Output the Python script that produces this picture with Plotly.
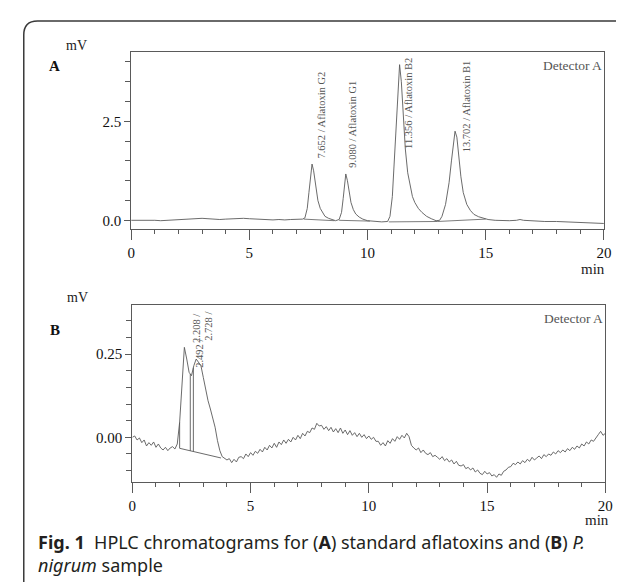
import plotly.graph_objects as go
import numpy as np

# ---------------- Data ----------------
# Panel A: standard aflatoxins chromatogram
time_a = [0.0, 0.25, 0.5, 0.75, 1.0, 1.25, 1.5, 1.75, 2.0, 2.25, 2.5, 2.75, 3.0, 3.25, 3.5,
          3.75, 4.0, 4.25, 4.5, 4.75, 5.0, 5.25, 5.5, 5.75, 6.0, 6.25, 6.5, 6.75, 7.0, 7.25,
          7.35, 7.45, 7.52, 7.58, 7.652, 7.72, 7.8, 7.9, 8.0, 8.1, 8.2, 8.35, 8.5, 8.65, 8.8,
          8.9, 8.97, 9.03, 9.08, 9.15, 9.22, 9.3, 9.4, 9.5, 9.65, 9.8, 10.0, 10.3, 10.6, 10.85,
          10.95, 11.05, 11.15, 11.25, 11.356, 11.43, 11.5, 11.6, 11.7, 11.8, 11.9, 12.0, 12.15,
          12.3, 12.5, 12.7, 12.9, 13.05,
          13.15, 13.3, 13.45, 13.55, 13.65, 13.702, 13.78, 13.86, 13.95, 14.05, 14.2, 14.35,
          14.5, 14.7, 14.9, 15.1,
          15.4, 15.7, 16.0, 16.3, 16.45, 16.6, 17.0, 17.5, 18.0, 18.5, 19.0, 19.5, 20.0]
signal_a = [0.00, 0.00, 0.01, 0.00, 0.00, -0.01, 0.00, 0.00, 0.01, 0.02, 0.03, 0.04, 0.05, 0.04, 0.03,
            0.02, 0.03, 0.04, 0.05, 0.05, 0.04, 0.03, 0.02, 0.02, 0.01, 0.02, 0.01, 0.02, 0.02, 0.03,
            0.06, 0.30, 0.70, 1.10, 1.42, 1.25, 0.85, 0.50, 0.30, 0.18, 0.10, 0.05, 0.01, -0.01, 0.02,
            0.20, 0.55, 0.95, 1.17, 1.00, 0.70, 0.45, 0.27, 0.16, 0.08, 0.03, -0.01, -0.03, -0.04, -0.03,
            0.10, 0.60, 1.60, 2.90, 3.93, 3.50, 2.70, 1.80, 1.20, 0.85, 0.60, 0.45, 0.30,
            0.20, 0.10, 0.04, -0.01, 0.00,
            0.10, 0.40, 0.95, 1.50, 2.10, 2.25, 2.10, 1.60, 1.10, 0.70, 0.40, 0.25,
            0.15, 0.09, 0.05, 0.02,
            0.00, -0.01, -0.01, 0.00, 0.02, 0.00, -0.02, -0.03, -0.03, -0.04, -0.05, -0.07, -0.08]

# integration baselines in panel A (start/end time, start/end signal)
base_a_t = [[7.30, 8.60], [8.80, 10.10], [10.90, 12.95], [12.95, 15.00]]
base_a_v = [[0.03, -0.01], [0.00, -0.02], [-0.04, -0.03], [-0.03, 0.03]]

peak_labels_a = ["7.652 / Aflatoxin G2", "9.080 / Aflatoxin G1",
                 "11.356 / Aflatoxin B2", "13.702 / Aflatoxin B1"]
peak_label_t_a = [8.04, 9.35, 11.73, 14.17]
peak_label_v_a = [1.50, 1.27, 1.75, 1.67]

# Panel B: P. nigrum sample chromatogram (sampled every 0.1 min)
time_b = [round(i * 0.1, 1) for i in range(201)]
signal_b = [
    0.000, 0.004, -0.008, -0.002, -0.016, -0.008, -0.026, -0.016, -0.024, -0.014,
    -0.030, -0.020, -0.032, -0.038, -0.030, -0.040, -0.032, -0.028, -0.035, -0.020,
    0.045, 0.160, 0.270, 0.235, 0.195, 0.185, 0.215, 0.235, 0.225, 0.215,
    0.180, 0.140, 0.110, 0.085, 0.055, 0.030, -0.010, -0.040, -0.058, -0.062,
    -0.068, -0.064, -0.076, -0.066, -0.074, -0.060, -0.058, -0.064, -0.050, -0.058,
    -0.046, -0.054, -0.042, -0.048, -0.036, -0.044, -0.030, -0.038, -0.024, -0.032,
    -0.018, -0.030, -0.014, -0.022, -0.008, -0.018, -0.006, -0.014, 0.000, -0.008,
    0.006, -0.004, 0.012, 0.004, 0.018, 0.014, 0.028, 0.024, 0.042, 0.034,
    0.036, 0.024, 0.032, 0.020, 0.030, 0.016, 0.026, 0.014, 0.028, 0.012,
    0.022, 0.008, 0.020, 0.006, 0.014, 0.002, 0.012, 0.000, 0.008, -0.004,
    0.004, -0.006, 0.000, -0.012, -0.012, -0.024, -0.016, -0.026, -0.010, -0.018,
    -0.004, -0.012, 0.002, -0.006, 0.006, -0.002, 0.012, 0.002, -0.024, -0.032,
    -0.038, -0.032, -0.046, -0.038, -0.048, -0.052, -0.046, -0.058, -0.054, -0.060,
    -0.066, -0.058, -0.070, -0.064, -0.074, -0.068, -0.080, -0.072, -0.084, -0.086,
    -0.082, -0.094, -0.090, -0.098, -0.092, -0.104, -0.098, -0.108, -0.112, -0.102,
    -0.110, -0.106, -0.116, -0.112, -0.120, -0.110, -0.114, -0.102, -0.098, -0.090,
    -0.088, -0.078, -0.082, -0.074, -0.080, -0.070, -0.076, -0.066, -0.072, -0.060,
    -0.068, -0.062, -0.056, -0.064, -0.052, -0.058, -0.050, -0.054, -0.044, -0.050,
    -0.040, -0.046, -0.038, -0.044, -0.034, -0.040, -0.030, -0.036, -0.026, -0.032,
    -0.020, -0.026, -0.014, -0.020, -0.008, -0.012, 0.000, 0.008, 0.018, 0.006,
    0.012]

# integration marks in panel B
drop_t_b = [2.00, 2.45, 2.58]
drop_base_b = [-0.033, -0.041, -0.043]
base_b_t = [2.00, 3.75]
base_b_v = [-0.033, -0.062]

peak_labels_b = ["2.208 /", "2.492 /", "2.728 /"]
peak_label_t_b = [2.71, 2.83, 3.21]
peak_label_v_b = [0.277, 0.202, 0.283]

# ---------------- Figure ----------------
W, H = 624, 582
def px(x):
    return x / W
def py(y):
    return (H - y) / H

LINE = '#5a5a5a'
SERIF = 'Liberation Serif, Times New Roman, serif'

fig = go.Figure()

fig.add_trace(go.Scatter(x=time_a, y=signal_a, mode='lines',
                         line=dict(color=LINE, width=0.9), xaxis='x', yaxis='y',
                         hoverinfo='skip'))
for t, v in zip(base_a_t, base_a_v):
    fig.add_trace(go.Scatter(x=t, y=v, mode='lines', line=dict(color=LINE, width=0.8),
                             xaxis='x', yaxis='y', hoverinfo='skip'))

fig.add_trace(go.Scatter(x=time_b, y=signal_b, mode='lines',
                         line=dict(color=LINE, width=0.9), xaxis='x2', yaxis='y2',
                         hoverinfo='skip'))
drop_top_b = np.interp(drop_t_b, time_b, signal_b)
for t, b, top in zip(drop_t_b, drop_base_b, drop_top_b):
    fig.add_trace(go.Scatter(x=[t, t], y=[top, b], mode='lines',
                             line=dict(color=LINE, width=0.9), xaxis='x2', yaxis='y2',
                             hoverinfo='skip'))
fig.add_trace(go.Scatter(x=base_b_t, y=base_b_v, mode='lines',
                         line=dict(color=LINE, width=0.9), xaxis='x2', yaxis='y2',
                         hoverinfo='skip'))

tickfont = dict(family=SERIF, size=15, color='#111111')

def xaxis_cfg(domain, anchor):
    return dict(domain=domain, anchor=anchor, range=[0, 20], showline=True, mirror=True,
                linecolor=LINE, linewidth=1, ticks='outside', ticklen=10, tickwidth=1,
                tickcolor=LINE, tick0=0, dtick=5, showgrid=False, zeroline=False,
                tickfont=tickfont, fixedrange=True,
                minor=dict(dtick=1, ticklen=4, ticks='outside', tickcolor=LINE, showgrid=False))

def yaxis_cfg(domain, anchor, rng, dtick, mdtick, fmt):
    return dict(domain=domain, anchor=anchor, range=rng, showline=True, mirror=True,
                linecolor=LINE, linewidth=1, ticks='outside', ticklen=6, tickwidth=1,
                tickcolor=LINE, tick0=0, dtick=dtick, tickformat=fmt, showgrid=False,
                zeroline=False, tickfont=tickfont, fixedrange=True,
                minor=dict(dtick=mdtick, tick0=0, ticklen=5, ticks='outside', tickcolor=LINE,
                           showgrid=False))

annotations = []
# peak labels
for txt, t, v in zip(peak_labels_a, peak_label_t_a, peak_label_v_a):
    annotations.append(dict(x=t, y=v, xref='x', yref='y', text=txt, showarrow=False,
                            textangle=-90, xanchor='center', yanchor='bottom',
                            font=dict(family=SERIF, size=10.5, color='#555555')))
for txt, t, v in zip(peak_labels_b, peak_label_t_b, peak_label_v_b):
    annotations.append(dict(x=t, y=v, xref='x2', yref='y2', text=txt, showarrow=False,
                            textangle=-90, xanchor='center', yanchor='bottom',
                            font=dict(family=SERIF, size=10.5, color='#555555')))

def label(x, y, text, size=13, color='#222222', xanchor='center', family=SERIF, align='center'):
    annotations.append(dict(x=px(x), y=py(y), xref='paper', yref='paper', text=text,
                            showarrow=False, xanchor=xanchor, yanchor='middle', align=align,
                            font=dict(family=family, size=size, color=color)))

label(66, 37, 'mV', size=14)
label(43, 58, '<b>A</b>', size=15, color='#111111')
label(604, 58, 'Detector A', size=13.5, color='#555555', xanchor='right')
label(592, 261, 'min', size=15)
label(67, 289, 'mV', size=14)
label(44, 322, '<b>B</b>', size=15, color='#111111')
label(605, 310, 'Detector A', size=13.5, color='#555555', xanchor='right')
label(596, 512, 'min', size=15)

CAP = 'Noto Sans, Open Sans, sans-serif'
label(24, 545,
      '<b>Fig. 1</b>  HPLC chromatograms for (<b>A</b>) standard aflatoxins and (<b>B</b>) <i>P.</i>'
      '<br><i>nigrum</i> sample',
      size=18, color='#231f20', xanchor='left', family=CAP, align='left')

# outer rounded border (top-left corner visible)
r = 14
border_path = (f"M {px(12)},{py(600)} L {px(12)},{py(13 + r)} "
               f"Q {px(12)},{py(13)} {px(12 + r)},{py(13)} L {px(640)},{py(13)}")

fig.update_layout(
    width=W, height=H, autosize=False,
    margin=dict(l=0, r=0, t=0, b=0),
    paper_bgcolor='white', plot_bgcolor='white',
    showlegend=False,
    xaxis=xaxis_cfg([px(121.5), px(603.5)], 'y'),
    yaxis=yaxis_cfg([py(220.7), py(44.3)], 'x', [-0.212, 4.242], 2.5, 0.5, '.1f'),
    xaxis2=xaxis_cfg([px(122.7), px(605)], 'y2'),
    yaxis2=yaxis_cfg([py(474.3), py(296.7)], 'x2', [-0.135, 0.398], 0.25, 0.05, '.2f'),
    annotations=annotations,
    shapes=[dict(type='path', path=border_path, xref='paper', yref='paper',
                 line=dict(color='#3a3a3a', width=1.5))],
)

fig.write_html("out.html")
